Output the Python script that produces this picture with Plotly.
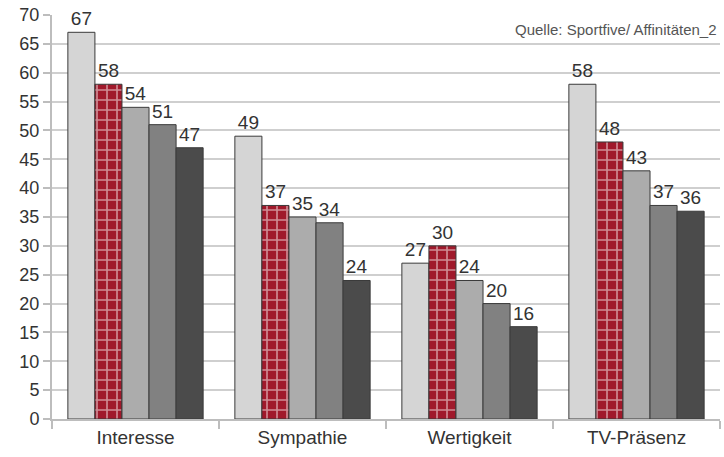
import plotly.graph_objects as go

categories = ["Interesse", "Sympathie", "Wertigkeit", "TV-Präsenz"]
series_1 = [67, 49, 27, 58]
series_2 = [58, 37, 30, 48]
series_3 = [54, 35, 24, 43]
series_4 = [51, 34, 20, 37]
series_5 = [47, 24, 16, 36]
y_ticks = list(range(0, 75, 5))

colors = ["#d5d5d5", "#a0192b", "#acacac", "#818181", "#4b4b4b"]
all_series = [series_1, series_2, series_3, series_4, series_5]

FONT = "Liberation Sans, Arial, sans-serif"

fig = go.Figure()
for i, (vals, col) in enumerate(zip(all_series, colors)):
    marker = dict(color=col, line=dict(color="#3a3a3a", width=1))
    if i == 1:
        marker["pattern"] = dict(shape="+", fgcolor="white", bgcolor=col, size=10, solidity=0.3)
    fig.add_trace(go.Bar(
        x=categories, y=vals, marker=marker,
        text=[str(v) for v in vals], textposition="outside",
        textfont=dict(size=19, color="#333333", family=FONT),
        cliponaxis=False, showlegend=False, hoverinfo="skip",
    ))

fig.update_layout(
    width=724, height=457,
    margin=dict(l=52, r=4, t=15, b=38),
    paper_bgcolor="white", plot_bgcolor="white",
    barmode="group", bargap=0.19, bargroupgap=0,
    font=dict(family=FONT, size=19, color="#333333"),
    xaxis=dict(
        automargin=False,
        showline=True, linecolor="#bdbdbd", linewidth=2,
        ticks="outside", tickson="boundaries", ticklen=8, tickcolor="#bdbdbd", tickwidth=2,
        tickfont=dict(size=19, color="#333333"),
    ),
    yaxis=dict(
        automargin=False,
        range=[0, 70], tickvals=y_ticks, showgrid=True, gridcolor="#cfcfcf", gridwidth=1.5,
        showline=True, linecolor="#bdbdbd", linewidth=2,
        ticks="outside", ticklen=7, tickcolor="#bdbdbd", tickwidth=2,
        tickfont=dict(size=18, color="#333333"), zeroline=False,
    ),
    annotations=[dict(
        text="Quelle: Sportfive/ Affinitäten_2", xref="paper", yref="paper",
        x=0.998, y=0.963, xanchor="right", yanchor="middle", showarrow=False,
        font=dict(size=15, color="#555555", family=FONT),
    )],
)

fig.write_html("out.html", config={"displayModeBar": False},
               post_script="document.body.style.margin='0';")
